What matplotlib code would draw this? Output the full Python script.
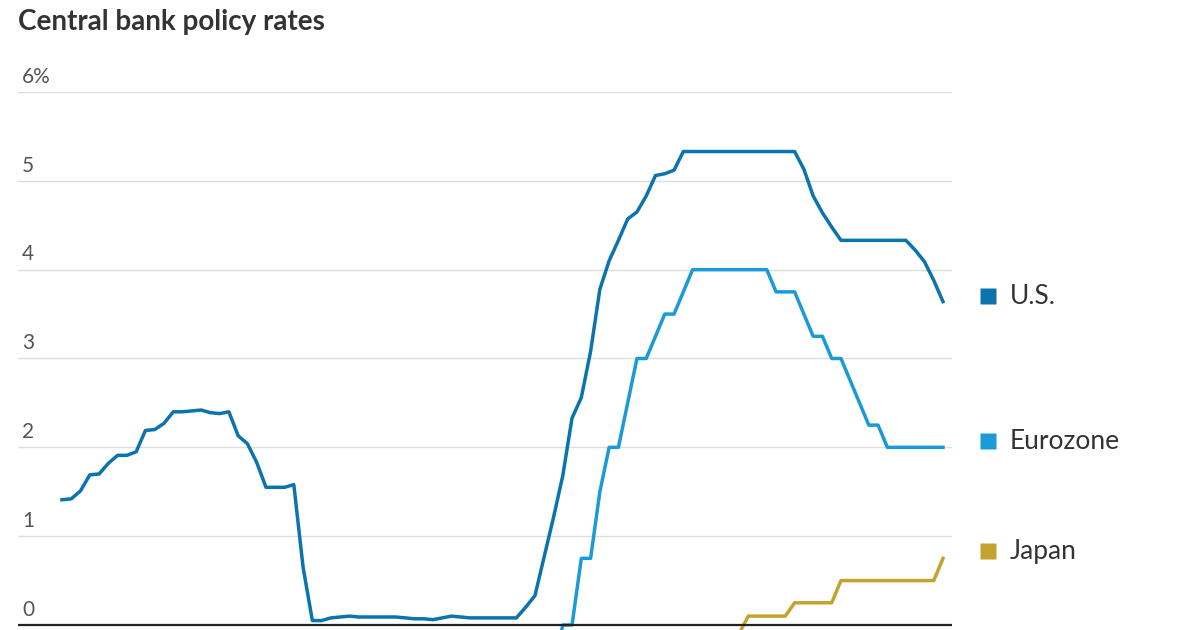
import numpy as np
import matplotlib.pyplot as plt

# Monatswerte Jan 2018 - Dez 2025
us = [1.41, 1.42, 1.51, 1.69, 1.70, 1.82, 1.91, 1.91, 1.95, 2.19, 2.20, 2.27,
      2.40, 2.40, 2.41, 2.42, 2.39, 2.38, 2.40, 2.13, 2.04, 1.83, 1.55, 1.55,
      1.55, 1.58, 0.65, 0.05, 0.05, 0.08, 0.09, 0.10, 0.09, 0.09, 0.09, 0.09,
      0.09, 0.08, 0.07, 0.07, 0.06, 0.08, 0.10, 0.09, 0.08, 0.08, 0.08, 0.08,
      0.08, 0.08, 0.20, 0.33, 0.77, 1.21, 1.68, 2.33, 2.56, 3.08, 3.78, 4.10,
      4.33, 4.57, 4.65, 4.83, 5.06, 5.08, 5.12, 5.33, 5.33, 5.33, 5.33, 5.33,
      5.33, 5.33, 5.33, 5.33, 5.33, 5.33, 5.33, 5.33, 5.13, 4.83, 4.64, 4.48,
      4.33, 4.33, 4.33, 4.33, 4.33, 4.33, 4.33, 4.33, 4.22, 4.09, 3.88, 3.64]

eurozone = [-0.40] * 20 + [-0.50] * 34 + [
      0.00, 0.00, 0.75, 0.75, 1.50, 2.00,
      2.00, 2.50, 3.00, 3.00, 3.25, 3.50, 3.50, 3.75, 4.00, 4.00, 4.00, 4.00,
      4.00, 4.00, 4.00, 4.00, 4.00, 3.75, 3.75, 3.75, 3.50, 3.25, 3.25, 3.00,
      3.00, 2.75, 2.50, 2.25, 2.25, 2.00, 2.00, 2.00, 2.00, 2.00, 2.00, 2.00]

japan = [-0.10] * 74 + [
      0.10, 0.10, 0.10, 0.10, 0.10, 0.25, 0.25, 0.25, 0.25, 0.25,
      0.50, 0.50, 0.50, 0.50, 0.50, 0.50, 0.50, 0.50, 0.50, 0.50, 0.50, 0.75]

series = ["U.S.", "Eurozone", "Japan"]
colors = ["#0b73ad", "#1b9ad8", "#c5a22e"]
label_y = [3.7, 2.07, 0.83]
yticks = [0, 1, 2, 3, 4, 5, 6]
ytick_labels = ["0", "1", "2", "3", "4", "5", "6%"]

months = np.arange(len(us))

fig = plt.figure(figsize=(12, 6.3), dpi=100)
ax = fig.add_axes([18 / 1200, 0.0, (952 - 18) / 1200, (630 - 92) / 630])

for vals, c in zip([us, eurozone, japan], colors):
    ax.plot(months, vals, color=c, lw=2.5, solid_joinstyle="round", zorder=3)

ax.set_xlim(-4.74, 95.97)
ax.set_ylim(-5 / 88.8, 6)

for t, lab in zip(yticks, ytick_labels):
    if t == 0:
        ax.axhline(t, color="#222222", lw=1.6, zorder=4)
    else:
        ax.axhline(t, color="#dddddd", lw=1.0, zorder=1)
    ax.text(-4.3, t + 0.06, lab, fontsize=15, color="#555555",
            family="Lato", va="bottom", ha="left")

for name, c, y in zip(series, colors, label_y):
    ax.plot([99.8], [y], marker="s", ms=12, color=c, clip_on=False, mec="none")
    ax.text(102.2, y, name, fontsize=19, color="#333333", family="Lato",
            va="center", ha="left", clip_on=False)

for s in ax.spines.values():
    s.set_visible(False)
ax.set_xticks([])
ax.set_yticks([])

fig.text(18 / 1200, 1 - 22 / 630, "Central bank policy rates", fontsize=20,
         fontweight="bold", family="Lato", color="#333333", va="center", ha="left")

fig.savefig("out.png", dpi=100)
